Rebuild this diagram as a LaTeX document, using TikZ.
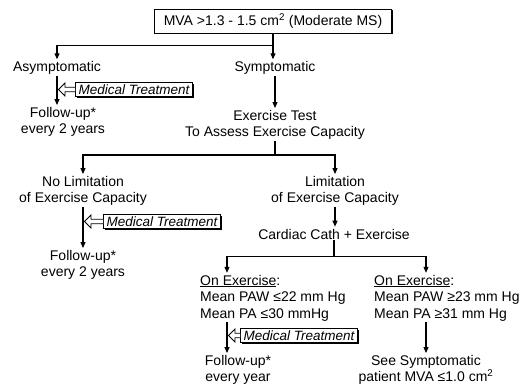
\documentclass[tikz,border=0pt]{standalone}
\usepackage{fontspec}
\setmainfont{Liberation Sans}
\usetikzlibrary{arrows.meta,shadows,calc}

\tikzset{
  flow/.style={line width=1.1pt, -{Triangle[length=6pt,width=5pt]}, shorten >=1pt},
  trunk/.style={line width=1.1pt},
  hollow/.style={line width=0.8pt, fill=white, line join=miter},
  txt/.style={align=center, inner sep=1pt, font=\fontsize{14}{16.5}\selectfont},
  shadowed/.style={drop shadow={shadow xshift=1.3pt, shadow yshift=-1.3pt, fill=black, opacity=1}},
  treatbox/.style={draw, line width=0.8pt, fill=white, shadowed, inner xsep=3pt, inner ysep=1.8pt,
    font=\fontsize{13.5}{15}\selectfont\itshape},
}

% open arrow from a treatment box to the line it feeds
\newcommand{\treatarrow}[2]{%
  \draw[hollow] ($(#1.west)+(0,-2.3)$) -- ($(#1.west -| #2)+(8,-2.3)$)
    -- ($(#1.west -| #2)+(8,-6.5)$) -- ($(#1.west -| #2)+(1.5,0)$)
    -- ($(#1.west -| #2)+(8,6.5)$) -- ($(#1.west -| #2)+(8,2.3)$)
    -- ($(#1.west)+(0,2.3)$);%
}

\begin{document}
\begin{tikzpicture}[x=1pt, y=-1pt]
	\useasboundingbox (0, 0) rectangle (531, 389);
	
	\node[draw, line width=1pt, fill=white, shadowed, minimum height=24pt, inner xsep=9pt, font=\fontsize{14}{16.5}\selectfont] (mva) at (273, 21) {MVA >1.3 - 1.5 cm\textsuperscript{2} (Moderate MS)};
	
	\node[txt] (asym) at (57, 68)   {Asymptomatic};
	\node[txt] (sym)  at (275, 68)  {Symptomatic};
	
	\node[treatbox] (med1) at (134, 89.5) {Medical Treatment};
	\node[txt] (fu1) at (63, 122)   {Follow-up*\\every 2 years};
	\node[txt] (ex)  at (275, 125)  {Exercise Test\\To Assess Exercise Capacity};
	
	\node[txt] (nolim) at (83, 191)  {No Limitation\\of Exercise Capacity};
	\node[txt] (lim)   at (335, 191) {Limitation\\of Exercise Capacity};
	
	\node[treatbox] (med2) at (162, 221.5) {Medical Treatment};
	\node[txt] (fu2)  at (83, 265)   {Follow-up*\\every 2 years};
	\node[txt] (cath) at (334, 234)  {Cardiac Cath + Exercise};
	
	\node[txt, align=left, anchor=west] (onl) at (199, 298) {\underline{On Exercise}:\\Mean PAW ≤22 mm Hg\\Mean PA ≤30 mmHg};
	\node[txt, align=left, anchor=west] (onr) at (373, 298) {\underline{On Exercise}:\\Mean PAW ≥23 mm Hg\\Mean PA ≥31 mm Hg};
	
	\node[treatbox] (med3) at (299, 335.5) {Medical Treatment};
	\node[txt] (fu3) at (238, 370)  {Follow-up*\\every year};
	\node[txt] (see) at (426, 370)  {See Symptomatic\\patient MVA ≤1.0 cm\textsuperscript{2}};
	
	\coordinate (lcol) at (227, 0);
	
	% first split
	\draw[trunk] (mva.south) -- ++(0, 12) coordinate (mvasplit);
	\draw[flow] (mvasplit) -| (asym.north);
	\draw[flow] (mvasplit) -- (mvasplit |- sym.north);
	
	\draw[flow] (asym.south) -- (asym.south |- fu1.north);
	\treatarrow{med1}{asym.south}
	\draw[flow] (sym.south) -- (sym.south |- ex.north);
	
	% second split
	\draw[trunk] (ex.south) -- ++(0, 14) coordinate (exsplit);
	\draw[flow] (exsplit) -| (nolim.north);
	\draw[flow] (exsplit) -| (lim.north);
	
	\draw[flow] (nolim.south) -- (nolim.south |- fu2.north);
	\treatarrow{med2}{nolim.south}
	\draw[flow] (lim.south) -- (lim.south |- cath.north);
	
	% third split
	\draw[trunk] (cath.south) -- ++(0, 16) coordinate (cathsplit);
	\draw[flow] (cathsplit) -| (lcol |- onl.north);
	\draw[flow] (cathsplit) -| (see.north |- onr.north);
	
	\draw[flow] (lcol |- onl.south) -- (lcol |- fu3.north);
	\treatarrow{med3}{lcol}
	\draw[flow] (see.north |- onr.south) -- (see.north);
	
\end{tikzpicture}
\end{document}
